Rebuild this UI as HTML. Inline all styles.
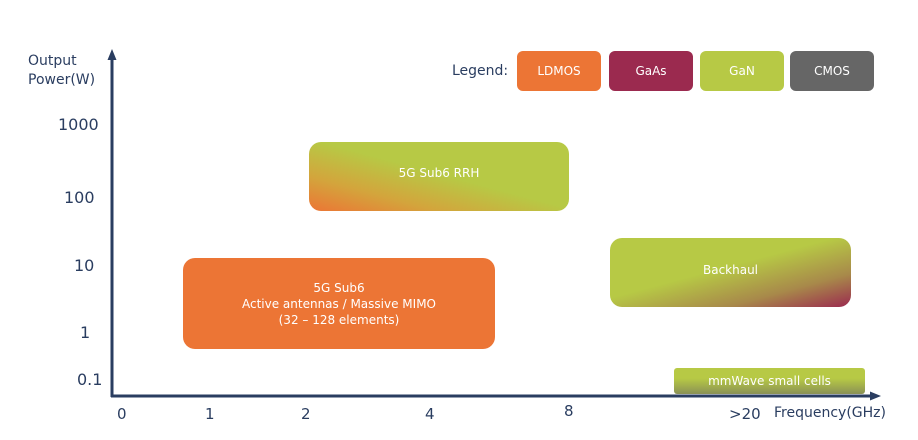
<!DOCTYPE html>
<html><head><style>
body{margin:0;width:918px;height:440px;background:#fff;position:relative;overflow:hidden;font-family:"DejaVu Sans","Liberation Sans",sans-serif;}
.t{position:absolute;color:#2a3d60;font-size:15px;}
.b{position:absolute;border-radius:12px;color:#fff;font-size:12px;display:flex;align-items:center;justify-content:center;text-align:center;line-height:16px;}
.l{position:absolute;top:51px;width:84px;height:40px;border-radius:6px;color:#fff;font-size:12px;display:flex;align-items:center;justify-content:center;}
</style></head><body>
<svg width="918" height="440" style="position:absolute;left:0;top:0">
<line x1="112" y1="58" x2="112" y2="397" stroke="#2a3d60" stroke-width="3"/>
<polygon points="112,49 107.5,60 116.5,60" fill="#2a3d60"/>
<line x1="111" y1="396" x2="872" y2="396" stroke="#2a3d60" stroke-width="3"/>
<polygon points="881,396 870,391.5 870,400.5" fill="#2a3d60"/>
</svg>
<div class="t" style="left:28px;top:52px;line-height:19px;font-size:14px">Output<br>Power(W)</div>
<div class="t" style="left:58px;top:115px;font-size:16px">1000</div>
<div class="t" style="left:64px;top:188px;font-size:16px">100</div>
<div class="t" style="left:74px;top:256px;font-size:16px">10</div>
<div class="t" style="left:80px;top:323px;font-size:16px">1</div>
<div class="t" style="left:77px;top:370px;font-size:16px">0.1</div>
<div class="t" style="left:117px;top:405px">0</div>
<div class="t" style="left:205px;top:405px">1</div>
<div class="t" style="left:301px;top:405px">2</div>
<div class="t" style="left:425px;top:405px">4</div>
<div class="t" style="left:564px;top:402px">8</div>
<div class="t" style="left:729px;top:405px">&gt;20</div>
<div class="t" style="left:774px;top:405px;font-size:14px">Frequency(GHz)</div>
<div class="t" style="left:452px;top:63px;font-size:14px">Legend:</div>
<div class="l" style="left:517px;background:#ec7535">LDMOS</div>
<div class="l" style="left:609px;background:#9b2a4f">GaAs</div>
<div class="l" style="left:700px;background:#b7c945">GaN</div>
<div class="l" style="left:790px;background:#666">CMOS</div>
<div class="b" style="left:309px;top:142px;width:260px;height:69px;background:linear-gradient(195deg,#b7c945 48%,#d3a53c 75%,#ec7535 100%);padding-bottom:8px;box-sizing:border-box">5G Sub6 RRH</div>
<div class="b" style="left:183px;top:258px;width:312px;height:91px;background:#ec7535">5G Sub6<br>Active antennas / Massive MIMO<br>(32 – 128 elements)</div>
<div class="b" style="left:610px;top:238px;width:241px;height:69px;background:linear-gradient(165deg,#b7c945 45%,#a8894a 75%,#9b2a4f 100%);padding-bottom:6px;box-sizing:border-box">Backhaul</div>
<div class="b" style="left:674px;top:368px;width:191px;height:26px;border-radius:3px;background:linear-gradient(180deg,#b7c945 40%,#8a9155 100%)">mmWave small cells</div>
</body></html>
